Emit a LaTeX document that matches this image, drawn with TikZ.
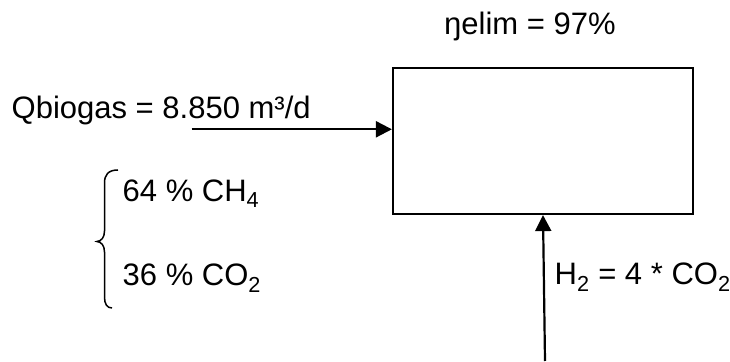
\documentclass[tikz,border=0pt]{standalone}
\usepackage{fontspec}
\setmainfont{Liberation Sans}
\usetikzlibrary{arrows.meta}
\begin{document}
\begin{tikzpicture}[x=1pt,y=1pt,
  lbl/.style={anchor=base west, inner sep=0pt, font=\fontsize{31}{37}\selectfont},
  flow/.style={line width=2.2pt, -{Triangle[length=16pt,width=16pt]}},
  unitbox/.style={draw, line width=2.2pt, minimum width=300pt, minimum height=146pt, inner sep=0pt}]
\useasboundingbox (0,0) rectangle (730,361);
\node[unitbox] (box) at (543,220) {};
\node[lbl] (eta) at (444,326) {ŋelim = 97\%};
\node[lbl] (q) at (11.5,242.7) {Qbiogas = 8.850 m³/d};
\node[lbl] (ch4) at (122.5,159.5) {64 \% CH\textsubscript{4}};
\node[lbl] (co2) at (122.5,75) {36 \% CO\textsubscript{2}};
\node[lbl] (h2) at (554.5,76) {H\textsubscript{2} = 4 * CO\textsubscript{2}};
\coordinate (qs) at (191.7,231.7);
\coordinate (hs) at (545,0);
\draw[flow] (qs) -- (qs -| box.west);
\draw[flow] (hs) -- (box.south);
\draw[line width=1.5pt] (118,191) .. controls (108,191) and (104.5,186) .. (104.5,178)
  -- (104.5,130) .. controls (104.5,123) and (101,120) .. (97,119.5)
  .. controls (101,119) and (104.5,116) .. (104.5,109)
  -- (104.5,64) .. controls (104.5,57) and (107,53) .. (112,53);
\end{tikzpicture}
\end{document}
